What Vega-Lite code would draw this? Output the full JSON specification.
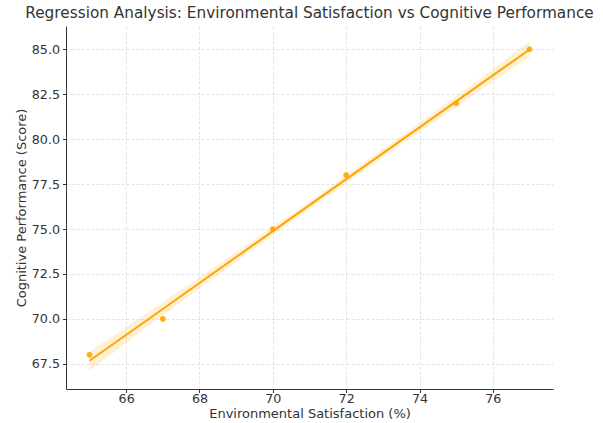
{
  "$schema": "https://vega.github.io/schema/vega-lite/v6.json",
  "width": 487,
  "height": 363,
  "autosize": "none",
  "padding": {"left": 66, "top": 26, "right": 50, "bottom": 34},
  "background": "white",
  "config": {
    "view": {"stroke": null},
    "font": "DejaVu Sans",
    "axis": {
      "domainColor": "#333333",
      "domainWidth": 1,
      "tickColor": "#333333",
      "tickSize": 3.5,
      "labelColor": "#333333",
      "labelFontSize": 12.7,
      "titleColor": "#333333",
      "titleFontSize": 13,
      "titleFontWeight": "normal",
      "gridColor": "#d6d6d6",
      "gridDash": [3, 2],
      "gridWidth": 0.7
    }
  },
  "title": {
    "text": "Regression Analysis: Environmental Satisfaction vs Cognitive Performance",
    "fontSize": 15.3,
    "fontWeight": "normal",
    "color": "#333333",
    "anchor": "middle",
    "offset": 5
  },
  "datasets": {
    "points": [
      {"sat": 65, "cog": 68},
      {"sat": 67, "cog": 70},
      {"sat": 70, "cog": 75},
      {"sat": 72, "cog": 78},
      {"sat": 75, "cog": 82},
      {"sat": 77, "cog": 85}
    ],
    "fit": [
      {"sat": 65, "fit": 67.67, "lo": 67.1, "hi": 68.2},
      {"sat": 66.5, "fit": 69.83, "lo": 69.42, "hi": 70.24},
      {"sat": 68, "fit": 72.0, "lo": 71.7, "hi": 72.32},
      {"sat": 71, "fit": 76.33, "lo": 76.12, "hi": 76.54},
      {"sat": 74, "fit": 80.66, "lo": 80.4, "hi": 80.92},
      {"sat": 75.5, "fit": 82.83, "lo": 82.5, "hi": 83.15},
      {"sat": 77, "fit": 84.99, "lo": 84.55, "hi": 85.45}
    ]
  },
  "encoding": {
    "x": {
      "field": "sat",
      "type": "quantitative",
      "scale": {"domain": [64.36, 77.64], "nice": false, "zero": false},
      "axis": {"title": "Environmental Satisfaction (%)", "values": [66, 68, 70, 72, 74, 76], "labelPadding": 0, "titlePadding": 2}
    }
  },
  "layer": [
    {
      "data": {"name": "fit"},
      "mark": {"type": "area", "color": "#FFA500", "opacity": 0.16},
      "encoding": {
        "y": {
          "field": "lo",
          "type": "quantitative",
          "scale": {"domain": [66.1, 86.3], "nice": false, "zero": false},
          "axis": {"title": "Cognitive Performance (Score)", "values": [67.5, 70, 72.5, 75, 77.5, 80, 82.5, 85], "format": ".1f", "labelPadding": 3, "titlePadding": 3}
        },
        "y2": {"field": "hi"}
      }
    },
    {
      "data": {"name": "fit"},
      "mark": {"type": "line", "color": "#FFA500", "strokeWidth": 2},
      "encoding": {
        "y": {"field": "fit", "type": "quantitative"}
      }
    },
    {
      "data": {"name": "points"},
      "mark": {"type": "point", "filled": true, "color": "#FFA500", "opacity": 0.9, "size": 32},
      "encoding": {
        "y": {"field": "cog", "type": "quantitative"}
      }
    }
  ]
}
